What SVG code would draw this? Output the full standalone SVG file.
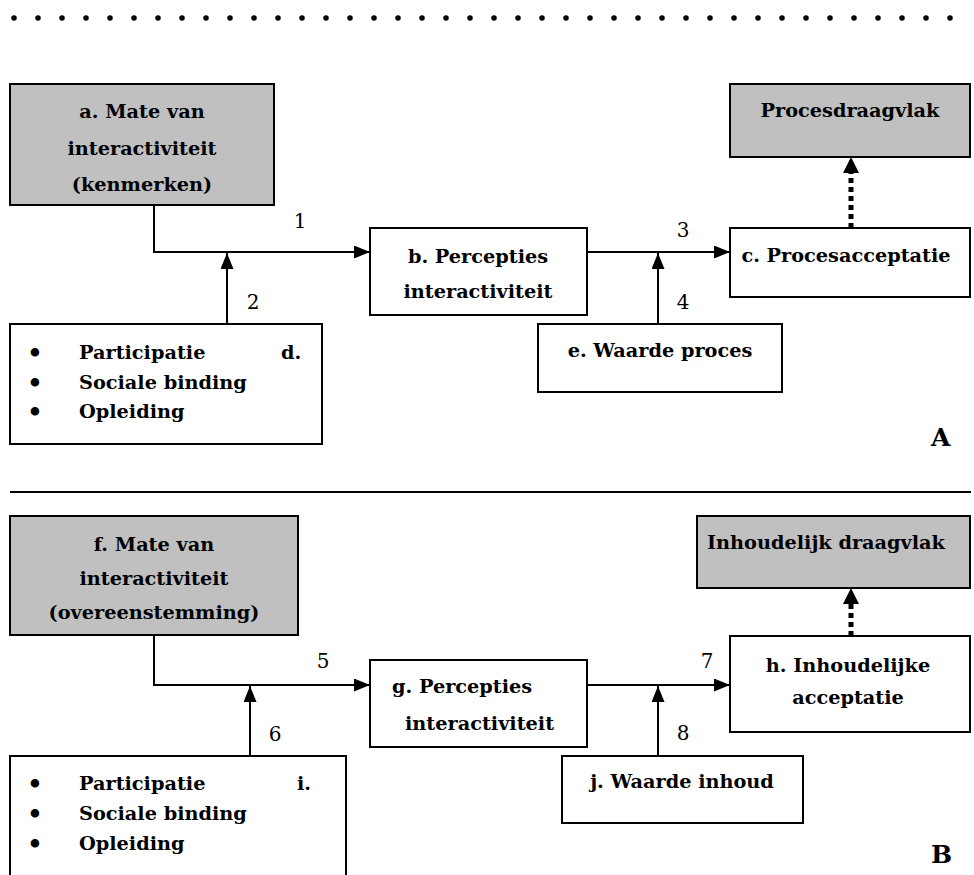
<svg xmlns="http://www.w3.org/2000/svg" width="974" height="875" viewBox="0 0 974 875">
  <style>
    .box { fill: #ffffff; stroke: #000000; stroke-width: 2; }
    .grey { fill: #c0c0c0; stroke: #000000; stroke-width: 2; }
    .t { font-family: "DejaVu Serif", "Liberation Serif", serif; font-weight: bold; font-size: 19.3px; fill: #000000; }
    .c { text-anchor: middle; }
    .bullet { font-family: "DejaVu Serif", "Liberation Serif", serif; font-weight: bold; font-size: 24px; fill: #000000; text-anchor: middle; }
    .num { font-family: "DejaVu Serif", "Liberation Serif", serif; font-size: 20px; fill: #000000; text-anchor: middle; }
    .big { font-family: "DejaVu Serif", "Liberation Serif", serif; font-weight: bold; font-size: 25px; fill: #000000; }
    .wire { fill: none; stroke: #000000; stroke-width: 2; }
    .dots { fill: none; stroke: #000000; stroke-width: 5; stroke-dasharray: 5 4; }
  </style>
  <defs>
    <marker id="arrow" viewBox="0 0 16 13" refX="16" refY="6.5" markerWidth="16" markerHeight="13" markerUnits="userSpaceOnUse" orient="auto">
      <path d="M0,0 L16,6.5 L0,13 Z" fill="#000000"/>
    </marker>
    <marker id="thick" viewBox="0 0 16 16" refX="0" refY="8" markerWidth="16" markerHeight="16" markerUnits="userSpaceOnUse" orient="auto">
      <path d="M0,0 L16,8 L0,16 Z" fill="#000000"/>
    </marker>
  </defs>

  <rect width="974" height="875" fill="#ffffff"/>

  <!-- dotted rule at the top -->
  <line x1="14" y1="18" x2="951" y2="18" stroke="#000000" stroke-width="5.5" stroke-linecap="round" stroke-dasharray="0 24"/>

  <!-- solid rule between panels -->
  <line x1="10" y1="492" x2="971" y2="492" stroke="#000000" stroke-width="2"/>

  <!-- panel A -->
  <g id="node-a">
    <rect class="grey" x="10" y="84" width="264" height="121"/>
    <text class="t c" x="142" y="118">a. Mate van</text>
    <text class="t c" x="142" y="155">interactiviteit</text>
    <text class="t c" x="142" y="191">(kenmerken)</text>
  </g>
  <g id="node-b">
    <rect class="box" x="370" y="228" width="217" height="87"/>
    <text class="t c" x="478" y="263">b. Percepties</text>
    <text class="t c" x="478" y="298">interactiviteit</text>
  </g>
  <g id="node-c">
    <rect class="box" x="730" y="228" width="240" height="69"/>
    <text class="t c" x="846" y="262">c. Procesacceptatie</text>
  </g>
  <g id="node-procesdraagvlak">
    <rect class="grey" x="730" y="84" width="240" height="73"/>
    <text class="t c" x="850" y="117">Procesdraagvlak</text>
  </g>
  <g id="node-d">
    <rect class="box" x="10" y="324" width="312" height="120"/>
    <text class="bullet" x="35" y="361">•</text>
    <text class="bullet" x="35" y="391">•</text>
    <text class="bullet" x="35" y="420">•</text>
    <text class="t" x="79" y="359">Participatie</text>
    <text class="t" x="79" y="389">Sociale binding</text>
    <text class="t" x="79" y="418">Opleiding</text>
    <text class="t" x="281" y="359">d.</text>
  </g>
  <g id="node-e">
    <rect class="box" x="538" y="324" width="244" height="68"/>
    <text class="t c" x="660" y="357">e. Waarde proces</text>
  </g>
  <text class="big" x="931" y="446">A</text>

  <!-- panel B -->
  <g id="node-f">
    <rect class="grey" x="10" y="516" width="288" height="119"/>
    <text class="t c" x="154" y="551">f. Mate van</text>
    <text class="t c" x="154" y="585">interactiviteit</text>
    <text class="t c" x="154" y="619">(overeenstemming)</text>
  </g>
  <g id="node-g">
    <rect class="box" x="370" y="660" width="217" height="87"/>
    <text class="t" x="392" y="693">g. Percepties</text>
    <text class="t" x="405" y="730">interactiviteit</text>
  </g>
  <g id="node-h">
    <rect class="box" x="730" y="636" width="240" height="96"/>
    <text class="t c" x="848" y="672">h. Inhoudelijke</text>
    <text class="t c" x="848" y="704">acceptatie</text>
  </g>
  <g id="node-inhoudelijk-draagvlak">
    <rect class="grey" x="697" y="516" width="273" height="72"/>
    <text class="t c" x="826" y="549">Inhoudelijk draagvlak</text>
  </g>
  <g id="node-i">
    <rect class="box" x="10" y="756" width="336" height="130"/>
    <text class="bullet" x="35" y="792">•</text>
    <text class="bullet" x="35" y="822">•</text>
    <text class="bullet" x="35" y="852">•</text>
    <text class="t" x="79" y="790">Participatie</text>
    <text class="t" x="79" y="820">Sociale binding</text>
    <text class="t" x="79" y="850">Opleiding</text>
    <text class="t" x="297" y="790">i.</text>
  </g>
  <g id="node-j">
    <rect class="box" x="562" y="756" width="241" height="67"/>
    <text class="t c" x="682" y="788">j. Waarde inhoud</text>
  </g>
  <text class="big" x="931" y="863">B</text>

  <!-- connectors -->
  <g id="connectors">
    <path class="wire" d="M154,205 V252 H370" marker-end="url(#arrow)"/>
    <path class="wire" d="M227,324 V253" marker-end="url(#arrow)"/>
    <path class="wire" d="M587,252 H730" marker-end="url(#arrow)"/>
    <path class="wire" d="M658,324 V253" marker-end="url(#arrow)"/>
    <path class="dots" d="M851,228 V173" marker-end="url(#thick)"/>

    <path class="wire" d="M154,635 V685 H370" marker-end="url(#arrow)"/>
    <path class="wire" d="M250,756 V686" marker-end="url(#arrow)"/>
    <path class="wire" d="M587,685 H730" marker-end="url(#arrow)"/>
    <path class="wire" d="M658,756 V686" marker-end="url(#arrow)"/>
    <path class="dots" d="M851,636 V604" marker-end="url(#thick)"/>

    <text class="num" x="300" y="228">1</text>
    <text class="num" x="253" y="309">2</text>
    <text class="num" x="683" y="237">3</text>
    <text class="num" x="683" y="309">4</text>
    <text class="num" x="323" y="668">5</text>
    <text class="num" x="275" y="741">6</text>
    <text class="num" x="707" y="668">7</text>
    <text class="num" x="683" y="740">8</text>
  </g>
</svg>
